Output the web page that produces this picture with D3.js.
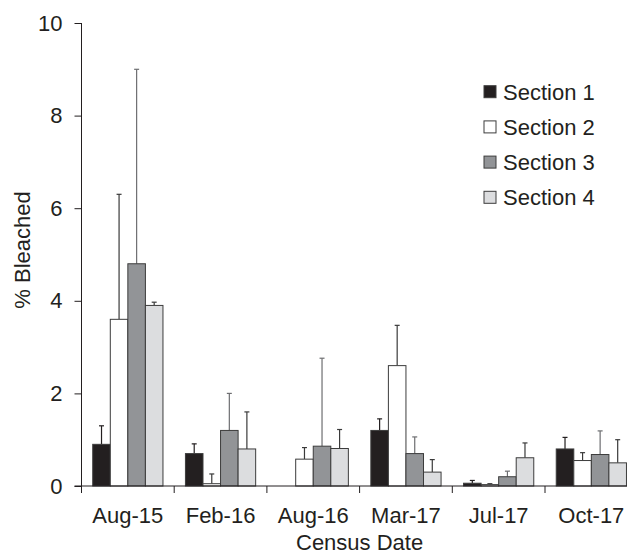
<!DOCTYPE html>
<html>
<head>
<meta charset="utf-8">
<script src="https://cdn.jsdelivr.net/npm/d3@7"></script>
<style>
  body { margin: 0; background: #fff; }
  svg text { font-family: "Liberation Sans", Arial, sans-serif; fill: #231f20; }
</style>
</head>
<body>
<svg width="627" height="555"></svg>
<script>
// Data
var dates = ["Aug-15", "Feb-16", "Aug-16", "Mar-17", "Jul-17", "Oct-17"];
var sections = ["Section 1", "Section 2", "Section 3", "Section 4"];
var sec1 = [0.9, 0.7, 0, 1.2, 0.06, 0.8];
var sec2 = [3.6, 0.05, 0.58, 2.6, 0.03, 0.55];
var sec3 = [4.8, 1.2, 0.86, 0.7, 0.2, 0.68];
var sec4 = [3.9, 0.8, 0.81, 0.3, 0.61, 0.5];
// upper end of the error bars
var err1 = [1.3, 0.91, 0, 1.45, 0.12, 1.05];
var err2 = [6.3, 0.26, 0.83, 3.47, 0.05, 0.72];
var err3 = [9.0, 2.0, 2.76, 1.06, 0.32, 1.19];
var err4 = [3.97, 1.6, 1.22, 0.57, 0.93, 1.0];
var yTicks = [0, 2, 4, 6, 8, 10];

var fills = ["#231f20", "#ffffff", "#929497", "#dcdddf"];
var errColors = ["#231f20", "#3a3a3a", "#6d6e71", "#3a3a3a"];

var svg = d3.select("svg");
var mLeft = 81.5, mTop = 23, mBottom = 486;
var band = 92.7;

var x = d3.scaleBand()
  .domain(dates)
  .range([mLeft, mLeft + band * dates.length])
  .paddingInner(0)
  .paddingOuter(0);

var xs = d3.scaleBand()
  .domain(sections)
  .range([0, band])
  .paddingInner(0)
  .paddingOuter(0.64);

var y = d3.scaleLinear().domain([0, 10]).range([mBottom, mTop]);

var vals = [sec1, sec2, sec3, sec4];
var errs = [err1, err2, err3, err4];

var rows = [];
dates.forEach(function(d, i) {
  sections.forEach(function(s, j) {
    rows.push({ date: d, sec: s, j: j, v: vals[j][i], e: errs[j][i] });
  });
});

// error bars (behind bars)
var eb = svg.append("g");
rows.filter(function(d) { return d.e > d.v; }).forEach(function(d) {
  var cx = x(d.date) + xs(d.sec) + xs.bandwidth() / 2;
  eb.append("line")
    .attr("x1", cx).attr("x2", cx)
    .attr("y1", y(d.v)).attr("y2", y(d.e))
    .attr("stroke", errColors[d.j]).attr("stroke-width", 1.2);
  eb.append("line")
    .attr("x1", cx - 2.5).attr("x2", cx + 2.5)
    .attr("y1", y(d.e)).attr("y2", y(d.e))
    .attr("stroke", errColors[d.j]).attr("stroke-width", 1.2);
});

// bars
svg.append("g")
  .selectAll("rect")
  .data(rows.filter(function(d) { return d.v > 0; }))
  .enter().append("rect")
    .attr("x", function(d) { return x(d.date) + xs(d.sec); })
    .attr("y", function(d) { return y(d.v); })
    .attr("width", xs.bandwidth())
    .attr("height", function(d) { return mBottom - y(d.v); })
    .attr("fill", function(d) { return fills[d.j]; })
    .attr("stroke", "#3c3c3c")
    .attr("stroke-width", 1);

// y axis
var yAxis = svg.append("g")
  .attr("transform", "translate(" + mLeft + ",0)")
  .call(d3.axisLeft(y).tickValues(yTicks).tickSize(7).tickPadding(12).tickSizeOuter(0));
yAxis.select(".domain").attr("stroke", "#231f20").attr("d", "M0," + y(10) + "V" + (mBottom + 0.5));
yAxis.selectAll(".tick line").attr("stroke", "#231f20");
yAxis.selectAll("text").style("font-size", "22px").attr("fill", "#231f20");

// x axis with ticks at category boundaries
var xAxis = svg.append("g").attr("transform", "translate(0," + mBottom + ")");
xAxis.append("line")
  .attr("x1", mLeft - 7).attr("x2", mLeft + band * dates.length)
  .attr("stroke", "#231f20");
xAxis.selectAll(".bt")
  .data(dates.concat([""]))
  .enter().append("line")
    .attr("x1", function(d, i) { return mLeft + band * i; })
    .attr("x2", function(d, i) { return mLeft + band * i; })
    .attr("y1", 0).attr("y2", 7)
    .attr("stroke", "#231f20");
xAxis.selectAll(".lab")
  .data(dates)
  .enter().append("text")
    .attr("x", function(d) { return x(d) + x.bandwidth() / 2; })
    .attr("y", 36.5)
    .attr("text-anchor", "middle")
    .style("font-size", "22px")
    .text(function(d) { return d; });

// axis titles
svg.append("text")
  .attr("x", mLeft + band * dates.length / 2)
  .attr("y", 550)
  .attr("text-anchor", "middle")
  .style("font-size", "22px")
  .text("Census Date");

svg.append("text")
  .attr("transform", "translate(30,250) rotate(-90)")
  .attr("text-anchor", "middle")
  .style("font-size", "22px")
  .text("% Bleached");

// legend
var legend = svg.append("g");
var lg = legend.selectAll("g")
  .data(sections)
  .enter().append("g")
    .attr("transform", function(d, i) { return "translate(484," + (91.7 + i * 35.2) + ")"; });
lg.append("rect")
  .attr("x", 0).attr("y", -6)
  .attr("width", 12).attr("height", 12)
  .attr("fill", function(d, i) { return fills[i]; })
  .attr("stroke", "#3c3c3c");
lg.append("text")
  .attr("x", 19).attr("y", 8)
  .style("font-size", "22px")
  .text(function(d) { return d; });
</script>
</body>
</html>
